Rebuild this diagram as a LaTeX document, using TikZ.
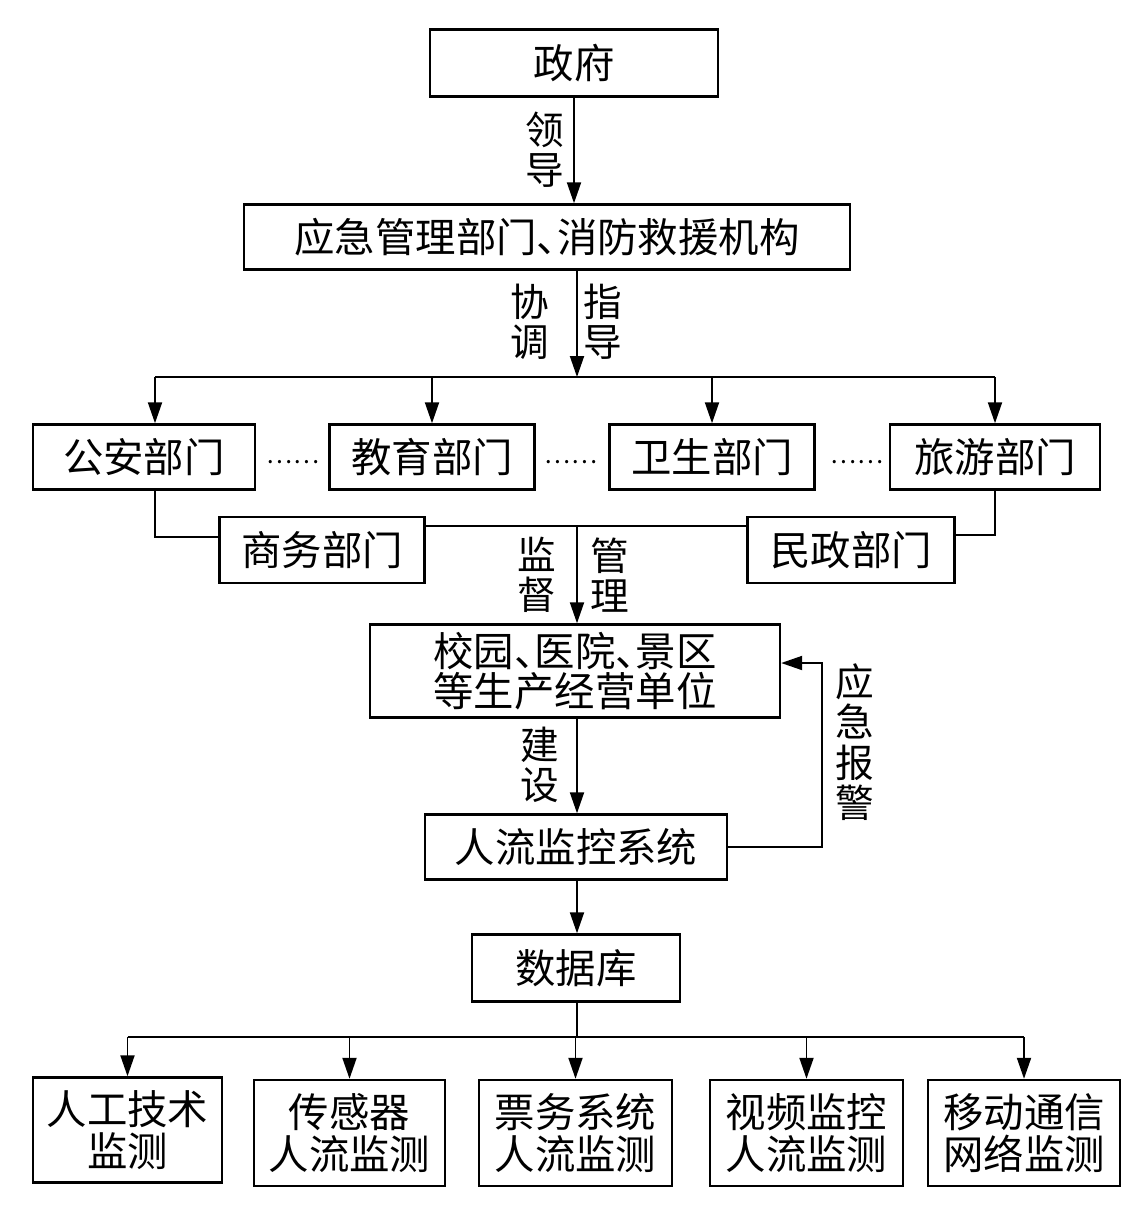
\documentclass[tikz,border=0pt]{standalone}
\usepackage{fontspec}
\setmainfont{Noto Sans CJK SC}
\usetikzlibrary{arrows.meta,positioning}
\newcommand{\dunhao}{、\kern-0.5em}
\tikzset{
  box/.style={draw,line width=1.4pt,align=center,inner sep=0pt,font=\fontsize{23}{24}\selectfont},
  lbl/.style={align=center,inner sep=0pt,font=\fontsize{22}{23}\selectfont},
  dots/.style={inner sep=0pt,font=\fontsize{14}{14}\selectfont},
  ln/.style={line width=1.1pt},
  ar/.style={ln,-{Triangle[length=0.42cm,width=0.28cm]}},
}

\begin{document}
\begin{tikzpicture}[x=0.02cm,y=-0.02cm]
\useasboundingbox (0,0) rectangle (1139,1211);
% top chain
\node[box,minimum width=5.76cm,minimum height=1.34cm] (gov) at (574,63) {政府};
\node[box,minimum width=12.12cm,minimum height=1.3cm] (ema) at (547,237) {应急管理部门\dunhao 消防救援机构};
% departments
\node[box,minimum width=4.44cm,minimum height=1.3cm] (ga) at (144,457) {公安部门};
\node[box,minimum width=4.1cm,minimum height=1.3cm] (jy) at (432,457) {教育部门};
\node[box,minimum width=4.1cm,minimum height=1.3cm] (ws) at (712,457) {卫生部门};
\node[box,minimum width=4.2cm,minimum height=1.3cm] (ly) at (995,457) {旅游部门};
\node[dots] (d1) at (293,462) {……};
\node[dots] (d2) at (571,462) {……};
\node[dots] (d3) at (857,462) {……};
\node[box,minimum width=4.1cm,minimum height=1.32cm] (sw) at (322,550) {商务部门};
\node[box,minimum width=4.14cm,minimum height=1.32cm] (mz) at (851,550) {民政部门};
% units and system
\node[box,minimum width=8.2cm,minimum height=1.86cm,font=\fontsize{23}{23}\selectfont] (xy) at (575,671) {校园\dunhao 医院\dunhao 景区\\等生产经营单位};
\node[box,minimum width=6.04cm,minimum height=1.3cm] (rl) at (576,847) {人流监控系统};
\node[box,minimum width=4.16cm,minimum height=1.34cm] (db) at (576,968) {数据库};
% monitoring
\node[box,minimum width=3.78cm,minimum height=2.1cm] (m1) at (127.5,1130) {人工技术\\监测};
\node[box,minimum width=3.82cm,minimum height=2.12cm] (m2) at (349.5,1133) {传感器\\人流监测};
\node[box,minimum width=3.86cm,minimum height=2.12cm] (m3) at (575.5,1133) {票务系统\\人流监测};
\node[box,minimum width=3.86cm,minimum height=2.12cm] (m4) at (806.5,1133) {视频监控\\人流监测};
\node[box,minimum width=3.84cm,minimum height=2.12cm] (m5) at (1024,1133) {移动通信\\网络监测};

\coordinate (hub) at (577,377);
\coordinate (c1) at (155,377);
\coordinate (mid) at (577,526);
\coordinate (alarm) at (822,663);
\coordinate (bus) at (577,1037);

\draw[ar] (gov.south) -- (gov.south |- ema.north);
\node[lbl] (l1) at (545,150) {领\\导};
\draw[ar] (ema.south -| hub) -- (hub);
\node[lbl] (l2) at (530,322) {协\\调};
\node[lbl] (l3) at (603,322) {指\\导};
\draw[ln] (c1) -- (ly.north |- hub);
\draw[ar] (c1) -- (c1 |- ga.north);
\draw[ar] (jy.north |- hub) -- (jy.north);
\draw[ar] (ws.north |- hub) -- (ws.north);
\draw[ar] (ly.north |- hub) -- (ly.north);
% links to the second row
\draw[ln] (c1 |- ga.south) |- ([yshift=0.26cm]sw.west);
\draw[ln] (ly.south) |- ([yshift=0.3cm]mz.east);
\draw[ln] (sw.east |- mid) -- (mz.west |- mid);
\draw[ar] (mid) -- (mid |- xy.north);
\node[lbl] (l4) at (537,575) {监\\督};
\node[lbl] (l5) at (610,575) {管\\理};
\draw[ar] (xy.south -| mid) -- (mid |- rl.north);
\node[lbl] (l6) at (540,765) {建\\设};
\draw[ar] (rl.east) -| (alarm) -- (alarm -| xy.east);
\node[lbl] (l7) at (855,742) {应\\急\\报\\警};
\draw[ar] (rl.south -| mid) -- (mid |- db.north);
% data fan-out
\draw[ln] (db.south -| bus) -- (bus);
\draw[ln] (m1.north |- bus) -- (m5.north |- bus);
\foreach \m in {m1,m2,m3,m4,m5}
  \draw[ar] (\m.north |- bus) -- (\m.north);
\end{tikzpicture}
\end{document}
